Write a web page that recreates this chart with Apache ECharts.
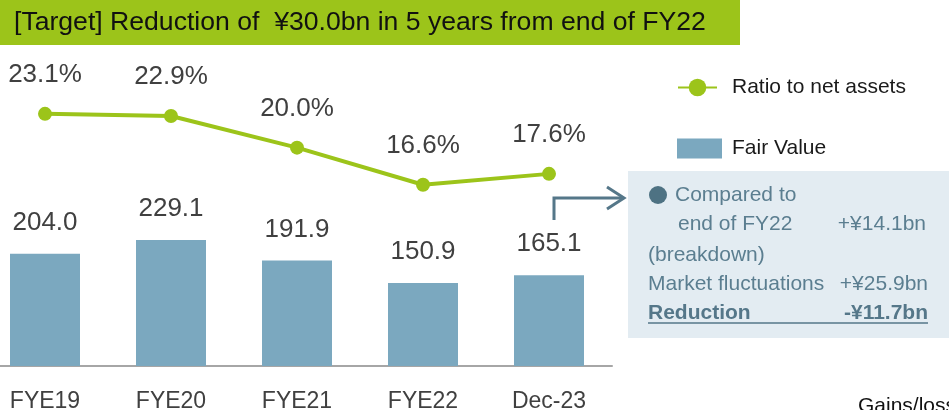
<!DOCTYPE html>
<html>
<head>
<meta charset="utf-8">
<script src="https://cdn.jsdelivr.net/npm/echarts@6/dist/echarts.min.js"></script>
<style>
html,body{margin:0;padding:0;background:#fff;}
#chart{width:949px;height:410px;}
</style>
</head>
<body>
<div id="chart"></div>
<script>
const categories = ['FYE19', 'FYE20', 'FYE21', 'FYE22', 'Dec-23'];
const fairValue = [204.0, 229.1, 191.9, 150.9, 165.1];
const ratioToNetAssets = [23.1, 22.9, 20.0, 16.6, 17.6];
const titleText = '[Target] Reduction of  \u00a530.0bn in 5 years from end of FY22';
const noteLines = ['Compared to', 'end of FY22', '+\u00a514.1bn', '(breakdown)', 'Market fluctuations', '+\u00a525.9bn', 'Reduction', '-\u00a511.7bn'];

const FONT = '"Liberation Sans", Arial, sans-serif';
const GREEN = '#9CC41A';
const BAR = '#7BA8BF';
const TXT = '#404040';
const SLATE = '#5B7E90';

const chart = echarts.init(document.getElementById('chart'), null, {renderer: 'canvas'});
chart.setOption({
  animation: false,
  textStyle: {fontFamily: FONT},
  grid: {left: -18, width: 630, top: 92, height: 274, outerBoundsMode: 'none'},
  legend: [
    {
      data: ['Ratio to net assets'], left: 677, top: 77, padding: 0, itemWidth: 39, itemHeight: 22,
      textStyle: {fontSize: 21, color: '#1a1a1a', fontFamily: FONT, padding: [3, 0, 0, 10]}
    },
    {
      data: [{name: 'Fair Value', icon: 'rect'}], left: 677, top: 138, padding: 0, itemWidth: 45, itemHeight: 20,
      textStyle: {fontSize: 21, color: '#1a1a1a', fontFamily: FONT, padding: [2, 0, 0, 5]}
    }
  ],
  xAxis: {
    type: 'category', data: categories,
    axisLine: {lineStyle: {color: '#A6A6A6', width: 2}},
    axisTick: {show: false},
    axisLabel: {fontSize: 23, color: TXT, margin: 24, fontFamily: FONT}
  },
  yAxis: [
    {type: 'value', min: 0, max: 498, show: false, splitLine: {show: false}},
    {type: 'value', min: 0, max: 25.1, show: false, splitLine: {show: false}}
  ],
  series: [
    {
      name: 'Fair Value', type: 'bar', data: fairValue, barWidth: 70, yAxisIndex: 0,
      itemStyle: {color: BAR},
      label: {show: true, position: 'top', distance: 18, fontSize: 26, color: TXT, fontFamily: FONT,
        formatter: p => p.value.toFixed(1)}
    },
    {
      name: 'Ratio to net assets', type: 'line', data: ratioToNetAssets, yAxisIndex: 1,
      symbol: 'circle', symbolSize: 14,
      lineStyle: {color: GREEN, width: 4},
      itemStyle: {color: GREEN},
      label: {show: true, position: 'top', distance: 19, fontSize: 26, color: TXT, fontFamily: FONT,
        formatter: p => p.value.toFixed(1) + '%'}
    }
  ],
  graphic: [
    {type: 'rect', shape: {x: 0, y: 0, width: 740, height: 45}, style: {fill: GREEN}, z: 10},
    {type: 'text', z: 11, style: {x: 14, y: 23, text: titleText, font: '26.6px ' + FONT, fill: '#111', textVerticalAlign: 'middle'}},
    {type: 'rect', shape: {x: 628, y: 171, width: 330, height: 167}, style: {fill: '#E3ECF2'}, z: 10},
    {type: 'circle', shape: {cx: 658, cy: 195, r: 9}, style: {fill: '#4E7283'}, z: 11},
    {type: 'text', z: 11, style: {x: 675, y: 195, text: noteLines[0], font: '21px ' + FONT, fill: SLATE, textVerticalAlign: 'middle'}},
    {type: 'text', z: 11, style: {x: 678, y: 224, text: noteLines[1], font: '21px ' + FONT, fill: SLATE, textVerticalAlign: 'middle'}},
    {type: 'text', z: 11, style: {x: 926, y: 224, text: noteLines[2], font: '21px ' + FONT, fill: SLATE, textAlign: 'right', textVerticalAlign: 'middle'}},
    {type: 'text', z: 11, style: {x: 648, y: 255, text: noteLines[3], font: '21px ' + FONT, fill: SLATE, textVerticalAlign: 'middle'}},
    {type: 'text', z: 11, style: {x: 648, y: 284, text: noteLines[4], font: '21px ' + FONT, fill: SLATE, textVerticalAlign: 'middle'}},
    {type: 'text', z: 11, style: {x: 928, y: 284, text: noteLines[5], font: '21px ' + FONT, fill: SLATE, textAlign: 'right', textVerticalAlign: 'middle'}},
    {type: 'text', z: 11, style: {x: 648, y: 313, text: noteLines[6], font: 'bold 21px ' + FONT, fill: '#557789', textVerticalAlign: 'middle'}},
    {type: 'text', z: 11, style: {x: 928, y: 313, text: noteLines[7], font: 'bold 21px ' + FONT, fill: '#557789', textAlign: 'right', textVerticalAlign: 'middle'}},
    {type: 'line', z: 11, shape: {x1: 648, y1: 323, x2: 928, y2: 323}, style: {stroke: '#557789', lineWidth: 1.5}},
    {type: 'polyline', z: 11, shape: {points: [[554, 220], [554, 198], [623, 198]]}, style: {stroke: '#557789', lineWidth: 3, fill: null}},
    {type: 'polyline', z: 11, shape: {points: [[607, 187], [624, 198], [607, 209]]}, style: {stroke: '#557789', lineWidth: 3, fill: null}},
    {type: 'text', z: 11, style: {x: 858, y: 406, text: 'Gains/losses', font: '21px ' + FONT, fill: '#111', textVerticalAlign: 'middle'}}
  ]
});
</script>
</body>
</html>
